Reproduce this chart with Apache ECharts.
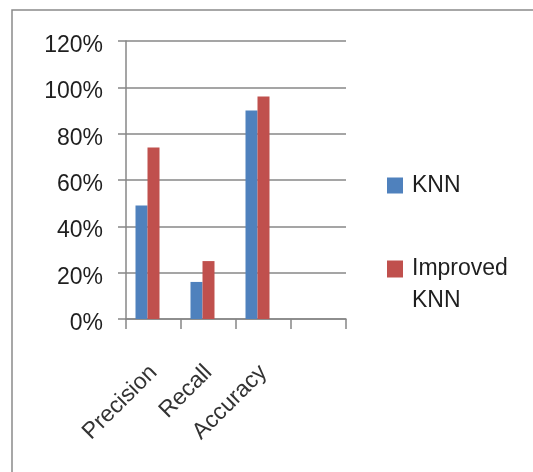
<!DOCTYPE html>
<html>
<head>
<meta charset="utf-8">
<script src="https://cdn.jsdelivr.net/npm/echarts@6/dist/echarts.min.js"></script>
<style>
  html, body { margin: 0; padding: 0; background: #fff; }
  #chart { width: 533px; height: 472px; }
</style>
</head>
<body>
<div id="chart"></div>
<script>
// categories (the fourth slot is empty in the original)
const categories = ['Precision', 'Recall', 'Accuracy', ''];
const knn = [0.49, 0.16, 0.90, null];
const improvedKnn = [0.74, 0.25, 0.96, null];
const yMin = 0, yMax = 1.2, yStep = 0.2;

const font = 'Liberation Sans, Arial, sans-serif';
const gray = '#878787';
const textColor = '#1f1f1f';

let chart = echarts.init(document.getElementById('chart'));
chart.setOption({
    animation: false,
    graphic: [{
        type: 'rect',
        shape: {x: 12, y: 10, width: 700, height: 700},
        style: {fill: 'none', stroke: '#8a8a8a', lineWidth: 1.5}
    }],
    grid: {left: 126, right: 187, top: 41, bottom: 153},
    legend: [
        {
            orient: 'vertical',
            left: 387, top: 174, padding: 0,
            itemWidth: 16, itemHeight: 16,
            icon: 'rect',
            data: ['KNN'],
            textStyle: {fontFamily: font, fontSize: 23, color: textColor, lineHeight: 16, padding: [0, 0, 0, 4]}
        },
        {
            orient: 'vertical',
            left: 387, top: 221, padding: 0,
            itemWidth: 16, itemHeight: 17,
            icon: 'rect',
            data: ['Improved KNN'],
            // blank first line keeps the icon level with "Improved"
            formatter: name => ' \n' + name.replace(' ', '\n'),
            textStyle: {fontFamily: font, fontSize: 23, color: textColor, lineHeight: 32, padding: [0, 0, 0, 4]}
        }
    ],
    xAxis: {
        type: 'category',
        data: categories,
        axisLine: {lineStyle: {color: gray, width: 1.5}},
        axisTick: {show: true, length: 10, lineStyle: {color: gray, width: 1.5}},
        axisLabel: {
            rotate: 45,
            margin: 50,
            interval: 0,
            fontFamily: font,
            fontSize: 23,
            color: '#333'
        }
    },
    yAxis: {
        type: 'value',
        min: yMin, max: yMax, interval: yStep,
        axisLine: {show: true, lineStyle: {color: gray, width: 1.5}},
        axisTick: {show: true, length: 8, lineStyle: {color: gray, width: 1.5}},
        splitLine: {lineStyle: {color: gray, width: 1.5}},
        axisLabel: {
            margin: 23,
            formatter: v => '{p|' + Math.round(v * 100) + '%}',
            rich: {
                p: {
                    fontFamily: font,
                    fontSize: 23,
                    color: textColor,
                    padding: [9, 0, 0, 0]
                }
            }
        }
    },
    series: [
        {
            name: 'KNN',
            type: 'bar',
            data: knn,
            barWidth: 12,
            barGap: '0%',
            itemStyle: {color: '#4F81BD'}
        },
        {
            name: 'Improved KNN',
            type: 'bar',
            data: improvedKnn,
            barWidth: 12,
            itemStyle: {color: '#C0504D'}
        },
        {
            // empty slot: the original leaves room for a third bar, so pairs sit left of centre
            name: 'spacer',
            type: 'bar',
            data: [null, null, null, null],
            barWidth: 12,
            silent: true
        }
    ]
});
</script>
</body>
</html>
